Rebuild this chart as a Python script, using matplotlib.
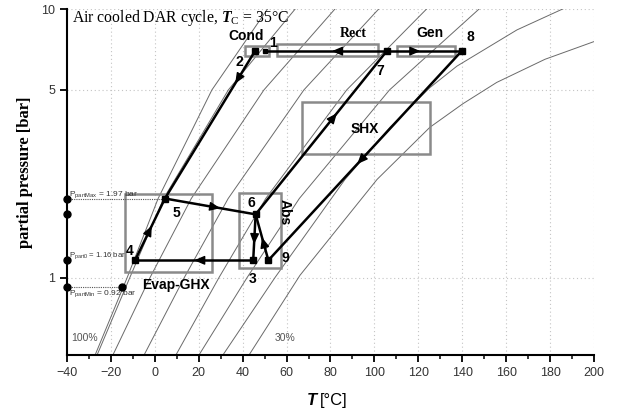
import matplotlib
matplotlib.use('Agg')
import matplotlib.pyplot as plt
from matplotlib.patches import Rectangle
from matplotlib.ticker import MultipleLocator, NullLocator
import numpy as np

plt.rcParams['font.family'] = 'Liberation Sans'
plt.rcParams['mathtext.fontset'] = 'custom'
plt.rcParams['mathtext.rm'] = 'Liberation Serif'
plt.rcParams['mathtext.it'] = 'Liberation Serif:italic:bold'
plt.rcParams['mathtext.sf'] = 'Liberation Sans'

# isosteres (T in degC, partial pressure in bar), 100 % ... 30 %
iso_T = [
    [-27.2, -12.6, 1.5, 26.0, 52.4],
    [-26.3, -11.4, 4.0, 33.5, 65.2],
    [-19.1, -2.2, 16.6, 49.7, 83.4],
    [-4.9, 13.4, 33.4, 67.9, 103.4],
    [9.6, 29.2, 50.5, 87.4, 125.3],
    [20.1, 42.0, 65.8, 106.9, 149.4],
    [31.0, 54.7, 86.6, 107.1, 125.3, 137.6, 164.9, 188.0],
    [42.9, 66.1, 101.2, 125.3, 140.3, 155.7, 177.7, 200.9],
]
iso_P = [
    [0.515, 1.0, 1.97, 5.0, 10.3],
    [0.515, 1.0, 1.97, 5.0, 10.3],
    [0.515, 1.0, 1.97, 5.0, 10.3],
    [0.515, 1.0, 1.97, 5.0, 10.3],
    [0.515, 1.0, 1.97, 5.0, 10.3],
    [0.515, 1.0, 1.97, 5.0, 10.3],
    [0.515, 1.0, 2.32, 3.63, 5.10, 6.13, 8.36, 10.2],
    [0.515, 1.02, 2.32, 3.63, 4.44, 5.33, 6.50, 7.61],
]

# cycle state points 1..9
state_id = ['1', '2', '3', '4', '5', '6', '7', '8', '9']
state_T = [50.2, 45.6, 44.8, -9.0, 4.6, 45.9, 105.6, 139.7, 51.7]
state_P = [6.97, 6.97, 1.16, 1.16, 1.97, 1.72, 6.97, 6.97, 1.16]

# connections (from, to) and arrow position along them
cycle_lines = [('2', '5'), ('4', '5'), ('5', '6'), ('6', '3'), ('9', '6'),
               ('3', '4'), ('6', '7'), ('7', '1'), ('7', '8'), ('8', '9')]
arrow_pos = [0.19, 0.53, 0.58, 0.62, 0.47, 0.47, 0.59, 0.42, 0.42, 0.51]

# component boxes: name, T0, T1, P0, P1
box_name = ['Cond', 'Rect', 'Gen', 'SHX', 'Evap-GHX', 'Abs']
box_T0 = [41.1, 55.5, 110.1, 66.9, -13.6, 38.5]
box_T1 = [52.0, 101.8, 136.7, 125.3, 26.2, 57.5]
box_P0 = [6.67, 6.71, 6.71, 2.89, 1.053, 1.084]
box_P1 = [7.31, 7.43, 7.31, 4.49, 2.05, 2.06]

# partial pressure marks on the axis
axis_P = [1.97, 1.72, 1.16, 0.92]
p_min_T = -15.1

fig = plt.figure(figsize=(6.17, 4.12), dpi=100)
ax = fig.add_axes([0.1086, 0.1383, 0.8541, 0.8398])
ax.set_yscale('log')
ax.set_xlim(-40, 200)
ax.set_ylim(0.515, 10.0)

for s in ['top', 'right']:
    ax.spines[s].set_visible(False)
for s in ['left', 'bottom']:
    ax.spines[s].set_linewidth(1.5)

ax.set_xticks(range(-40, 201, 20))
ax.xaxis.set_minor_locator(MultipleLocator(10))
ax.set_yticks([1, 5, 10])
ax.set_yticklabels(['1', '5', '10'])
ax.yaxis.set_minor_locator(NullLocator())
ax.tick_params(which='major', length=5, width=1.3, labelsize=9, colors='k', labelcolor='#333333')
ax.tick_params(which='minor', length=3, width=1.1)

for x in range(-20, 201, 20):
    ax.axvline(x, color='#c4c4c4', ls=(0, (1, 2.5)), lw=0.8, zorder=0)
for y in [1, 5, 10]:
    ax.axhline(y, color='#c4c4c4', ls=(0, (1, 2.5)), lw=0.8, zorder=0)

for T, P in zip(iso_T, iso_P):
    ax.plot(T, P, color='#6a6a6a', lw=0.7, zorder=1)

for name, t0, t1, p0, p1 in zip(box_name, box_T0, box_T1, box_P0, box_P1):
    ax.add_patch(Rectangle((t0, p0), t1 - t0, p1 - p0, fill=False,
                           edgecolor='#8a8a8a', lw=1.8, zorder=2))

idx = {k: i for i, k in enumerate(state_id)}


def along(a, b, t):
    i, j = idx[a], idx[b]
    T = state_T[i] + t * (state_T[j] - state_T[i])
    lp = np.log(state_P[i]) + t * (np.log(state_P[j]) - np.log(state_P[i]))
    return T, np.exp(lp)


for (a, b), t in zip(cycle_lines, arrow_pos):
    i, j = idx[a], idx[b]
    ax.plot([state_T[i], state_T[j]], [state_P[i], state_P[j]], color='k', lw=1.8, zorder=3)
    ax.annotate('', xy=along(a, b, t + 0.03), xytext=along(a, b, t - 0.03),
                arrowprops=dict(arrowstyle='-|>,head_length=0.7,head_width=0.3',
                                color='k', lw=1.0, shrinkA=0, shrinkB=0,
                                mutation_scale=9), zorder=4)

for k, T, P in zip(state_id, state_T, state_P):
    ms = 3 if k == '1' else 5
    ax.plot(T, P, 's', color='k', ms=ms, zorder=5)

# state labels
lab_T = [54.0, 38.3, 44.7, -11.3, 10.0, 44.1, 102.5, 143.5, 59.3]
lab_P = [7.45, 6.35, 0.989, 1.258, 1.746, 1.903, 5.88, 7.88, 1.185]
for k, T, P in zip(state_id, lab_T, lab_P):
    ax.text(T, P, k, fontsize=10, fontweight='bold', ha='center', va='center', zorder=6)

ax.text(41.5, 7.95, 'Cond', fontsize=10, fontweight='bold', ha='center', va='center')
ax.text(90.2, 8.08, 'Rect', fontsize=10, fontweight='bold', family='Liberation Serif',
        ha='center', va='center')
ax.text(125.3, 8.15, 'Gen', fontsize=10, fontweight='bold', ha='center', va='center')
ax.text(95.7, 3.57, 'SHX', fontsize=10, fontweight='bold', ha='center', va='center')
ax.text(9.6, 0.939, 'Evap-GHX', fontsize=10, fontweight='bold', ha='center', va='center')
ax.text(59.3, 1.76, 'Abs', fontsize=10, fontweight='bold', ha='center', va='center', rotation=270)

ax.text(-31.8, 0.595, '100%', fontsize=7.5, color='#555555', ha='center', va='center')
ax.text(59.3, 0.595, '30%', fontsize=7.5, color='#555555', ha='center', va='center')

# partial pressure marks
ax.plot([-40] * len(axis_P), axis_P, 'o', color='k', ms=5, clip_on=False, zorder=6)
ax.plot(p_min_T, axis_P[3], 'o', color='k', ms=5, zorder=6)
ax.plot([-40, state_T[idx['5']]], [axis_P[0], axis_P[0]], color='#555555', ls=(0, (1, 1)), lw=0.8, zorder=2)
ax.plot([-40, p_min_T], [axis_P[3], axis_P[3]], color='#555555', ls=(0, (1, 1)), lw=0.8, zorder=2)
ax.text(-39, 2.04, r'P$_{\mathsf{partMax}}$ = 1.97 bar', fontsize=6, color='#333333', va='center')
ax.text(-39, 1.21, r'P$_{\mathsf{part0}}$ = 1.16 bar', fontsize=5.6, color='#333333', va='center')
ax.text(-39, 0.875, r'P$_{\mathsf{partMin}}$ = 0.92 bar', fontsize=6, color='#333333', va='center')

ax.text(0.01, 0.975, r'Air cooled DAR cycle, $T_{\rm C}$ = 35°C', transform=ax.transAxes,
        fontsize=11.3, family='Liberation Serif', va='center', ha='left')

fig.text(0.0405, 0.5825, 'partial pressure [bar]', rotation=90, fontsize=12,
         family='Liberation Serif', fontweight='bold', ha='center', va='center')
fig.text(0.506, 0.029, 'T', fontsize=12, fontweight='bold', style='italic', ha='center', va='center')
fig.text(0.519, 0.029, '[°C]', fontsize=12, ha='left', va='center')

fig.savefig('out.png', dpi=100)
